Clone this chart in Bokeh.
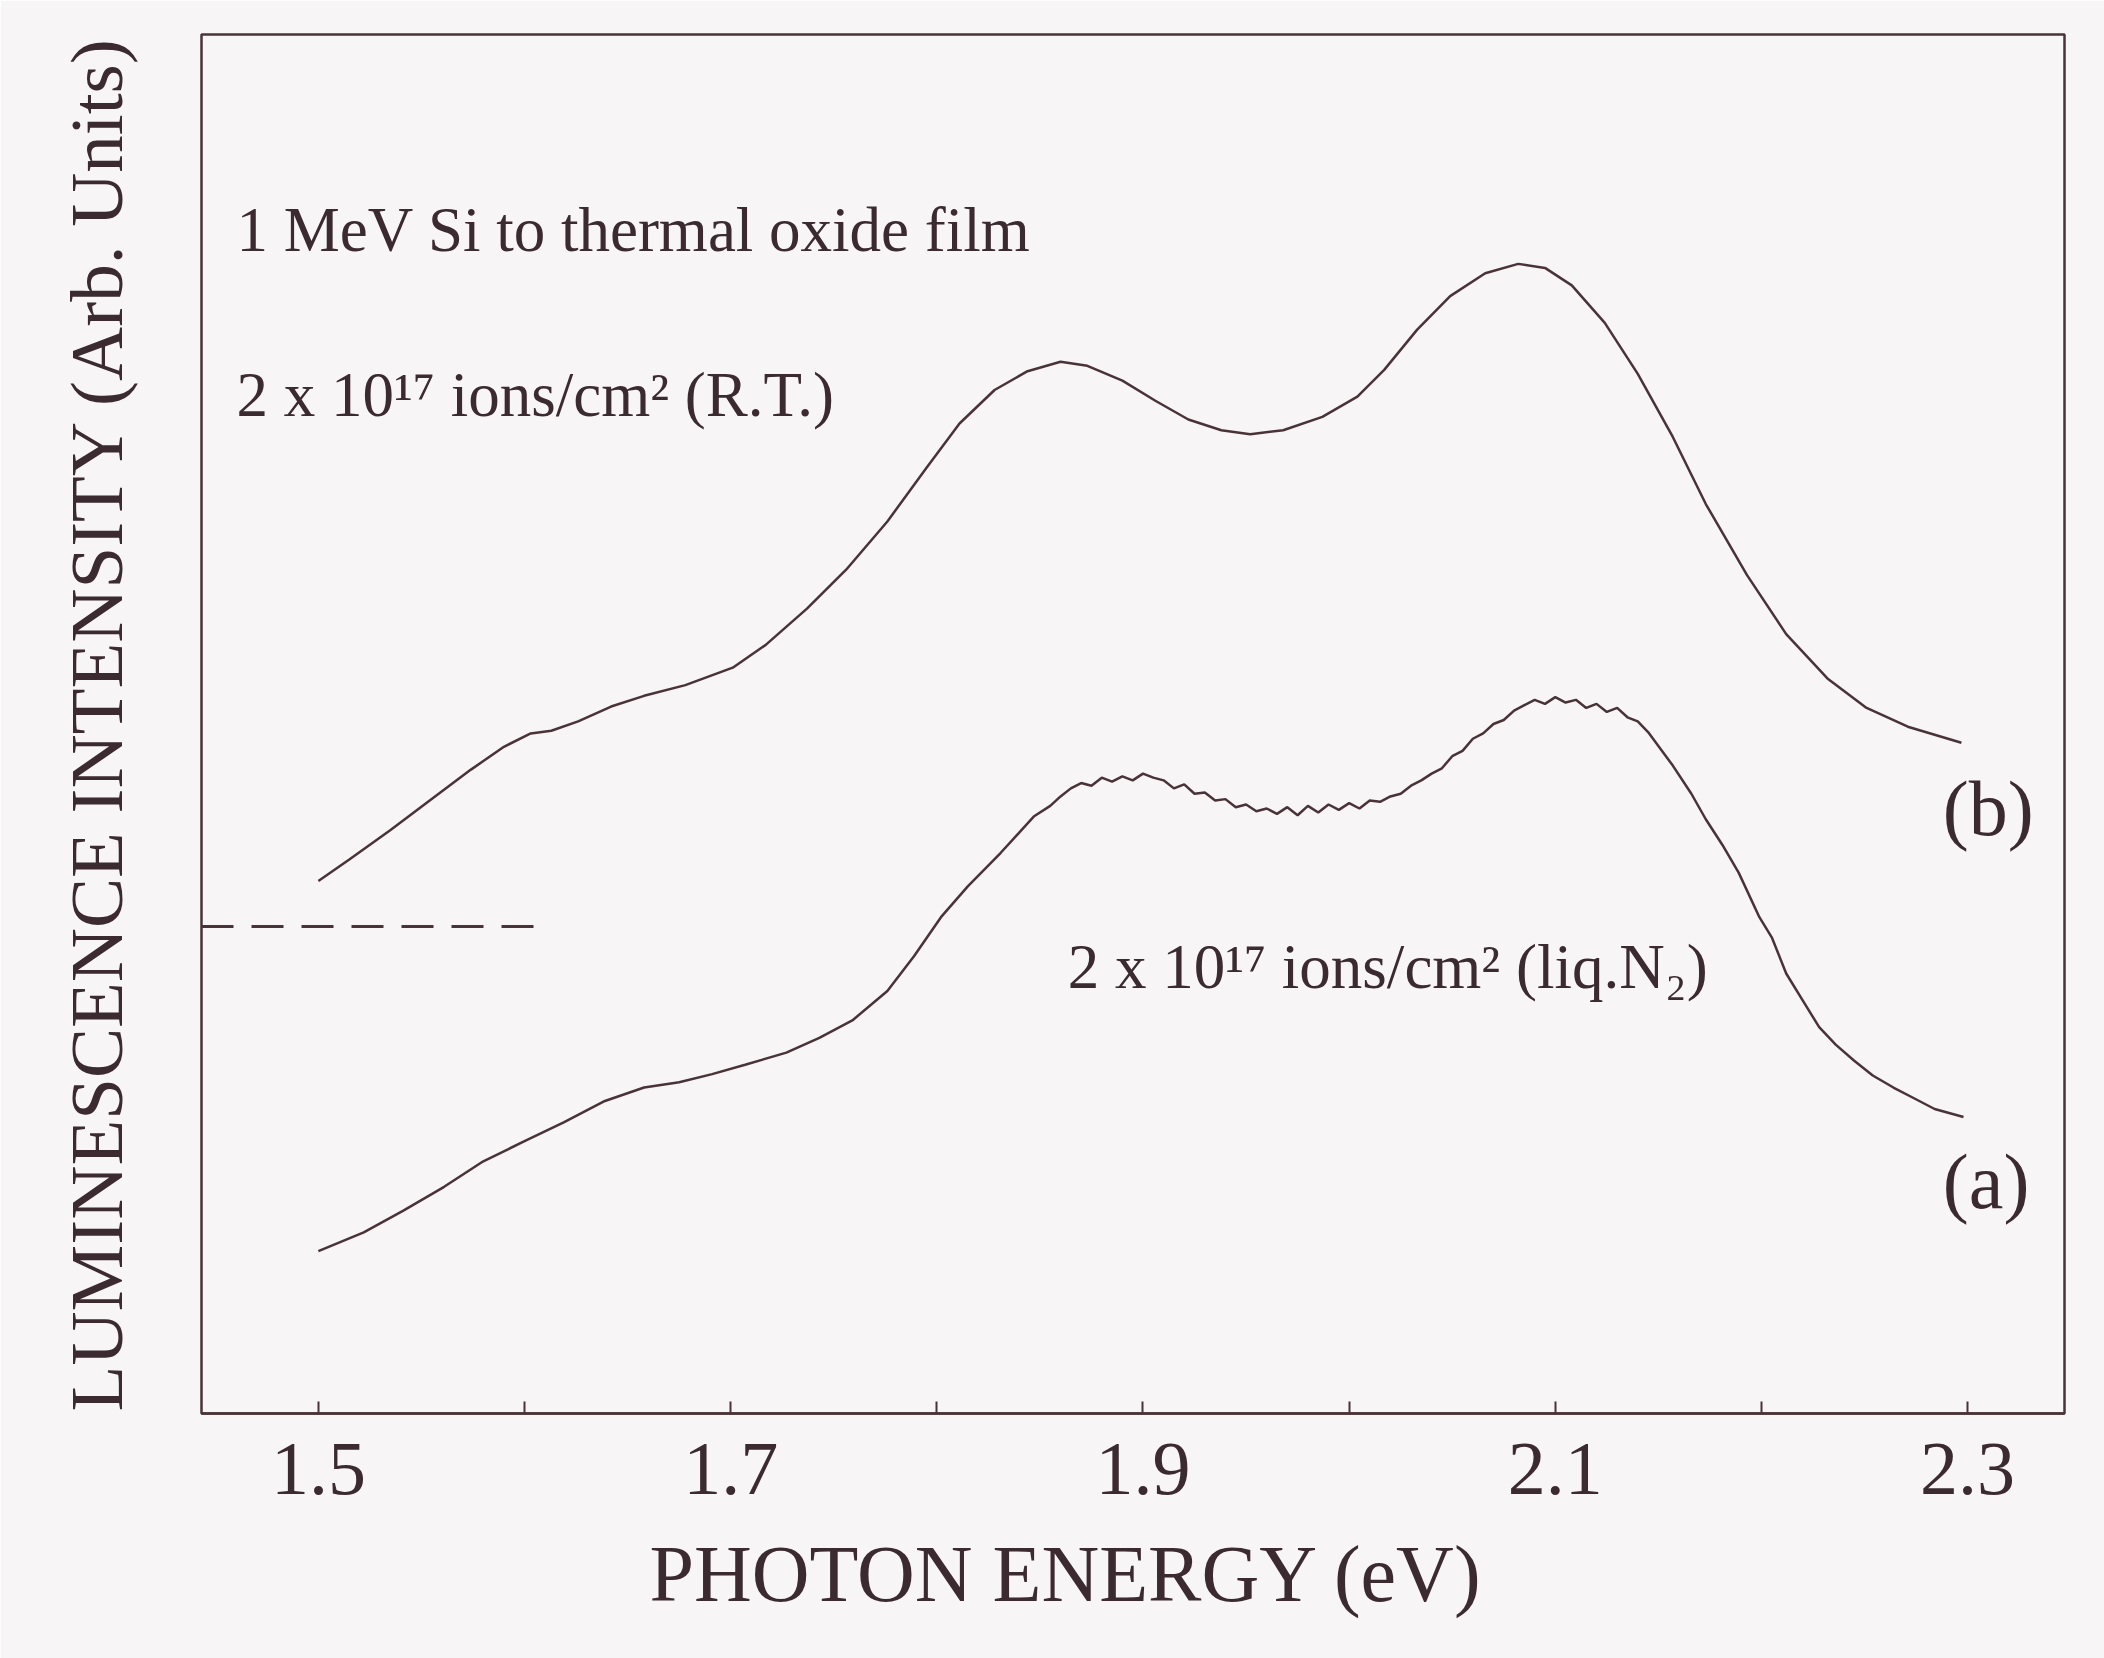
from bokeh.plotting import figure
from bokeh.models import FixedTicker, Label, Range1d, Title
from bokeh.embed import file_html
from bokeh.resources import INLINE

# ---------------- data ----------------
# curve (b): 2 x 10^17 ions/cm^2 at room temperature
energy_b = [1.500, 1.515, 1.535, 1.554, 1.574, 1.590, 1.603, 1.613, 1.626, 1.642,
            1.658, 1.678, 1.701, 1.717, 1.737, 1.756, 1.776, 1.795, 1.811, 1.828,
            1.844, 1.860, 1.873, 1.890, 1.906, 1.922, 1.938, 1.952, 1.968, 1.987,
            2.004, 2.017, 2.033, 2.049, 2.066, 2.082, 2.095, 2.108, 2.124, 2.140,
            2.157, 2.173, 2.193, 2.212, 2.232, 2.251, 2.271, 2.297]
intensity_b = [397, 413, 435, 457, 480, 497, 507, 509, 516, 527,
               535, 543, 556, 573, 600, 629, 665, 705, 738, 763,
               777, 784, 781, 770, 755, 741, 733, 730, 733, 743,
               758, 778, 808, 833, 850, 857, 854, 841, 813, 775,
               728, 678, 625, 581, 548, 526, 512, 500]

# curve (a): 2 x 10^17 ions/cm^2 at liquid-N2 temperature (noisy trace)
energy_a = [1.500, 1.522, 1.541, 1.561, 1.580, 1.600, 1.619, 1.639, 1.658, 1.675,
            1.691, 1.707, 1.727, 1.743, 1.759, 1.776, 1.789, 1.802, 1.815, 1.831,
            1.847, 1.855,
            1.860, 1.865, 1.870, 1.875, 1.880, 1.885, 1.890, 1.895, 1.900, 1.905,
            1.910, 1.915, 1.920, 1.925, 1.930, 1.935, 1.940, 1.945, 1.950, 1.955,
            1.960, 1.965, 1.970, 1.975, 1.980, 1.985, 1.990, 1.995, 2.000, 2.005,
            2.010, 2.015, 2.020, 2.025, 2.030, 2.035, 2.040, 2.045, 2.050, 2.055,
            2.060, 2.065, 2.070, 2.075, 2.080, 2.085, 2.090, 2.095, 2.100, 2.105,
            2.110, 2.115, 2.120, 2.125, 2.130, 2.135, 2.140, 2.145,
            2.157, 2.166, 2.173, 2.181, 2.189, 2.199, 2.205, 2.212, 2.220, 2.228,
            2.236, 2.245, 2.254, 2.264, 2.274, 2.284, 2.298]
intensity_a = [121, 135, 151, 169, 188, 203, 217, 233, 243, 247,
               253, 260, 269, 280, 293, 315, 341, 370, 393, 418,
               445, 453,
               460, 466, 470, 468, 474, 471, 475, 472, 477, 474,
               472, 466, 469, 462, 463, 457, 458, 452, 454, 449,
               451, 447, 452, 446, 453, 448, 454, 450, 455, 451,
               457, 456, 460, 462, 468, 472, 477, 481, 490, 494,
               503, 507, 514, 517, 524, 528, 532, 529, 534, 530,
               532, 526, 529, 523, 526, 519, 516, 508,
               483, 462, 443, 424, 403, 370, 355, 328, 308, 288,
               275, 263, 252, 243, 235, 227, 221]

# dashed reference level
ref_level_x = [1.4433, 1.613]
ref_level_y = [363, 363]

x_ticks = [1.5, 1.7, 1.9, 2.1, 2.3]
x_minor_ticks = [1.6, 1.8, 2.0, 2.2]
x_tick_labels = ["1.5", "1.7", "1.9", "2.1", "2.3"]

# ---------------- styling ----------------
LINE = "#4a3338"
TEXT = "#3b2a2f"
BG = "#f7f5f6"
FONT = "Liberation Serif"

p = figure(width=2104, height=1658, output_backend="svg", toolbar_location=None,
           title=None,
           x_range=Range1d(1.4433, 2.347), y_range=Range1d(0, 1028),
           min_border_left=201, min_border_right=40,
           min_border_top=34, min_border_bottom=245)

p.background_fill_color = BG
p.border_fill_color = BG
p.outline_line_color = LINE
p.outline_line_width = 2.5
p.grid.visible = False

# x axis
xa = p.xaxis[0]
xa.ticker = FixedTicker(ticks=x_ticks, minor_ticks=x_minor_ticks)
xa.major_label_overrides = {t: s for t, s in zip(x_ticks, x_tick_labels)}
xa.axis_line_color = LINE
xa.axis_line_width = 2.5
xa.major_tick_line_color = LINE
xa.minor_tick_line_color = LINE
xa.major_tick_line_width = 2
xa.minor_tick_line_width = 2
xa.major_tick_in = 12
xa.major_tick_out = 0
xa.minor_tick_in = 12
xa.minor_tick_out = 0
xa.major_label_text_font = FONT
xa.major_label_text_font_size = "76px"
xa.major_label_text_color = TEXT
xa.major_label_standoff = 30

# x-axis title, placed slightly left of centre as in the original
p.add_layout(Title(text="PHOTON ENERGY (eV)", align="left", offset=448,
                   text_font=FONT, text_font_size="80px", text_font_style="normal",
                   text_color=TEXT, standoff=63), "below")

# y axis (label only)
ya = p.yaxis[0]
ya.ticker = FixedTicker(ticks=[])
ya.major_label_text_font_size = "0px"
ya.axis_line_color = None
ya.major_tick_line_color = None
ya.minor_tick_line_color = None
ya.axis_label = "LUMINESCENCE INTENSITY (Arb. Units)"
ya.axis_label_text_font = FONT
ya.axis_label_text_font_size = "75px"
ya.axis_label_text_font_style = "normal"
ya.axis_label_text_color = TEXT
ya.axis_label_standoff = 64

# curves
p.line(energy_b, intensity_b, line_color=LINE, line_width=2.5)
p.line(energy_a, intensity_a, line_color=LINE, line_width=2.5)
p.line(ref_level_x, ref_level_y, line_color=LINE, line_width=3, line_dash="32 18")

# annotations
def add_label(x, y, text, size, baseline="alphabetic"):
    p.add_layout(Label(x=x, y=y, text=text, text_font=FONT, text_font_size=size,
                       text_color=TEXT, text_baseline=baseline, text_align="left"))

add_label(1.4603, 882, "1 MeV Si to thermal oxide film", "63px")
add_label(1.4603, 759, "2 x 10\u00b9\u2077 ions/cm\u00b2 (R.T.)", "63px")
add_label(1.8635, 333, "2 x 10\u00b9\u2077 ions/cm\u00b2 (liq.N\u2082)", "63px")
add_label(2.288, 451, "(b)", "78px", "middle")
add_label(2.288, 173, "(a)", "78px", "middle")

open("out.html", "w").write(file_html(p, INLINE))
